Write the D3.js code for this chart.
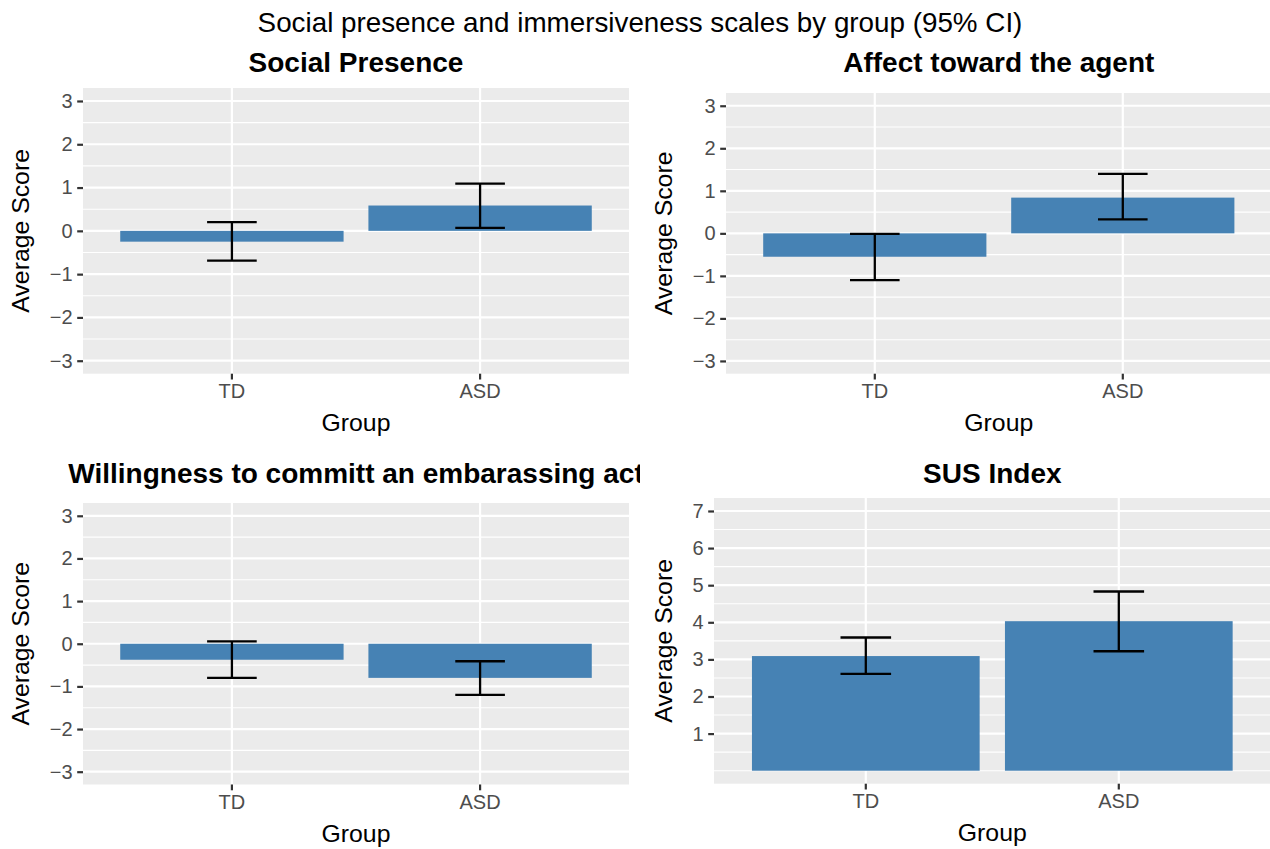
<!DOCTYPE html>
<html>
<head>
<meta charset="utf-8">
<script src="https://cdn.jsdelivr.net/npm/d3@7"></script>
<style>
  body { margin: 0; background: #fff; }
  text { font-family: "Liberation Sans", Arial, Helvetica, sans-serif; }
</style>
</head>
<body>
<div id="chart"></div>
<script>
// groups on the x axis
const groups = ["TD", "ASD"];

// Social Presence
const spMean = [-0.25, 0.585];
const spLow  = [-0.69, 0.07];
const spHigh = [0.20, 1.09];

// Affect toward the agent
const affMean = [-0.55, 0.84];
const affLow  = [-1.10, 0.33];
const affHigh = [-0.01, 1.40];

// Willingness to commit an embarassing act
const wilMean = [-0.375, -0.80];
const wilLow  = [-0.80, -1.20];
const wilHigh = [0.055, -0.41];

// SUS Index
const susMean = [3.09, 4.03];
const susLow  = [2.61, 3.22];
const susHigh = [3.59, 4.83];

const scoreLimits = [-3, 3];
const scoreTicks = [-3, -2, -1, 0, 1, 2, 3];
const susLimits = [0, 7];
const susTicks = [1, 2, 3, 4, 5, 6, 7];

const W = 1270, H = 849;
const svg = d3.select("#chart").append("svg")
    .attr("width", W)
    .attr("height", H);

svg.append("text")
    .attr("x", 640)
    .attr("y", 32)
    .attr("text-anchor", "middle")
    .attr("font-size", 27.8)
    .attr("fill", "black")
    .text("Social presence and immersiveness scales by group (95% CI)");

// clip for the left column (long title gets cut off)
svg.append("defs").append("clipPath")
    .attr("id", "clipLeft")
    .append("rect")
    .attr("x", 0).attr("y", 0)
    .attr("width", 640).attr("height", H);

const intFmt = d3.format("d");

function panel(opt) {
    let g = svg.append("g");
    if (opt.clip) g.attr("clip-path", "url(#" + opt.clip + ")");

    let p = opt.box;

    // expanded limits like ggplot (5%)
    let span = opt.limits[1] - opt.limits[0];
    let y = d3.scaleLinear()
        .domain([opt.limits[0] - 0.05 * span, opt.limits[1] + 0.05 * span])
        .range([p.bottom, p.top]);

    let x = d3.scaleBand()
        .domain(groups)
        .range([p.left, p.right])
        .paddingInner(0.1)
        .paddingOuter(0.15);

    // panel background
    g.append("rect")
        .attr("x", p.left).attr("y", p.top)
        .attr("width", p.right - p.left)
        .attr("height", p.bottom - p.top)
        .attr("fill", "#EBEBEB");

    // minor grid
    let step = opt.ticks[1] - opt.ticks[0];
    let minor = [];
    let ext = [opt.ticks[0] - step].concat(opt.ticks, [opt.ticks[opt.ticks.length - 1] + step]);
    for (let i = 0; i < ext.length - 1; i++) {
        minor.push(ext[i]);
        minor.push((ext[i] + ext[i + 1]) / 2);
    }
    minor = minor.filter(v => opt.ticks.indexOf(v) < 0 && v >= y.domain()[0] && v <= y.domain()[1]);

    g.selectAll(".minor").data(minor).enter().append("line")
        .attr("x1", p.left).attr("x2", p.right)
        .attr("y1", d => y(d)).attr("y2", d => y(d))
        .attr("stroke", "white").attr("stroke-width", 1.1);

    // major grid
    g.selectAll(".major").data(opt.ticks).enter().append("line")
        .attr("x1", p.left).attr("x2", p.right)
        .attr("y1", d => y(d)).attr("y2", d => y(d))
        .attr("stroke", "white").attr("stroke-width", 2.2);

    g.selectAll(".vmajor").data(groups).enter().append("line")
        .attr("x1", d => x(d) + x.bandwidth() / 2)
        .attr("x2", d => x(d) + x.bandwidth() / 2)
        .attr("y1", p.top).attr("y2", p.bottom)
        .attr("stroke", "white").attr("stroke-width", 2.2);

    // bars
    g.selectAll(".bar").data(groups).enter().append("rect")
        .attr("x", d => x(d))
        .attr("width", x.bandwidth())
        .attr("y", (d, i) => Math.min(y(0), y(opt.mean[i])))
        .attr("height", (d, i) => Math.abs(y(opt.mean[i]) - y(0)))
        .attr("fill", "#4682B4");

    // error bars
    let cap = x.bandwidth() * 0.2 / 0.9 / 2;
    groups.forEach((d, i) => {
        let cx = x(d) + x.bandwidth() / 2;
        let eb = g.append("g")
            .attr("stroke", "black")
            .attr("stroke-width", 2.3)
            .attr("fill", "none");
        eb.append("line")
            .attr("x1", cx).attr("x2", cx)
            .attr("y1", y(opt.low[i])).attr("y2", y(opt.high[i]));
        eb.append("line")
            .attr("x1", cx - cap).attr("x2", cx + cap)
            .attr("y1", y(opt.low[i])).attr("y2", y(opt.low[i]));
        eb.append("line")
            .attr("x1", cx - cap).attr("x2", cx + cap)
            .attr("y1", y(opt.high[i])).attr("y2", y(opt.high[i]));
    });

    // axes
    let yAxis = d3.axisLeft(y)
        .tickValues(opt.ticks)
        .tickFormat(intFmt)
        .tickSize(5.8)
        .tickPadding(4.6);
    let ya = g.append("g")
        .attr("transform", "translate(" + p.left + ",0)")
        .call(yAxis);
    ya.select(".domain").remove();
    ya.selectAll(".tick line").attr("stroke", "#333333").attr("stroke-width", 2.2);
    ya.selectAll(".tick text")
        .attr("fill", "#4D4D4D")
        .attr("font-size", 20)
        .attr("font-family", "Liberation Sans, Arial, sans-serif");

    let xAxis = d3.axisBottom(x)
        .tickSize(5.8)
        .tickPadding(4.6);
    let xa = g.append("g")
        .attr("transform", "translate(0," + p.bottom + ")")
        .call(xAxis);
    xa.select(".domain").remove();
    xa.selectAll(".tick line").attr("stroke", "#333333").attr("stroke-width", 2.2);
    xa.selectAll(".tick text")
        .attr("fill", "#4D4D4D")
        .attr("font-size", 20)
        .attr("font-family", "Liberation Sans, Arial, sans-serif");

    // titles
    g.append("text")
        .attr("x", (p.left + p.right) / 2)
        .attr("y", opt.titleY)
        .attr("text-anchor", "middle")
        .attr("font-size", 28)
        .attr("font-weight", "bold")
        .attr("fill", "black")
        .text(opt.title);

    g.append("text")
        .attr("x", (p.left + p.right) / 2)
        .attr("y", p.bottom + 57)
        .attr("text-anchor", "middle")
        .attr("font-size", 24.8)
        .attr("fill", "black")
        .text("Group");

    g.append("text")
        .attr("transform", "translate(" + opt.yTitleX + "," + ((p.top + p.bottom) / 2) + ") rotate(-90)")
        .attr("text-anchor", "middle")
        .attr("font-size", 24.8)
        .attr("fill", "black")
        .text("Average Score");
}

panel({
    box: {left: 83, right: 629, top: 88, bottom: 373.7},
    limits: scoreLimits, ticks: scoreTicks,
    mean: spMean, low: spLow, high: spHigh,
    title: "Social Presence", titleY: 72, yTitleX: 29
});

panel({
    box: {left: 726, right: 1271.6, top: 93, bottom: 373.7},
    limits: scoreLimits, ticks: scoreTicks,
    mean: affMean, low: affLow, high: affHigh,
    title: "Affect toward the agent", titleY: 72, yTitleX: 672
});

panel({
    box: {left: 83, right: 629, top: 503, bottom: 784.5},
    limits: scoreLimits, ticks: scoreTicks,
    mean: wilMean, low: wilLow, high: wilHigh,
    title: "Willingness to committ an embarassing act", titleY: 483, yTitleX: 29,
    clip: "clipLeft"
});

panel({
    box: {left: 714, right: 1270.6, top: 498, bottom: 783.7},
    limits: susLimits, ticks: susTicks,
    mean: susMean, low: susLow, high: susHigh,
    title: "SUS Index", titleY: 483, yTitleX: 672
});
</script>
</body>
</html>
